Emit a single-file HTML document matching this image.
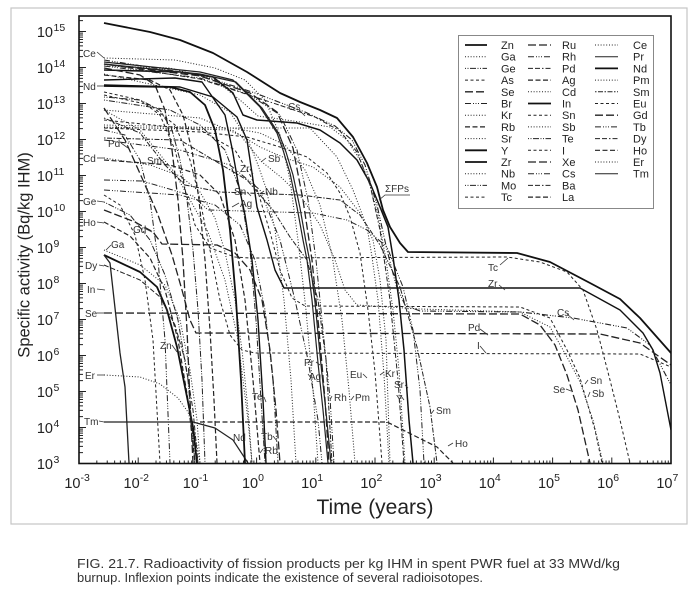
<!DOCTYPE html>
<html><head><meta charset="utf-8">
<style>
html,body{margin:0;padding:0;background:#fff;}
svg{display:block}
.c{fill:none;stroke:#222;stroke-width:1;stroke-linejoin:round}
.sk{stroke-width:1.8;stroke:#111}
.dt{stroke-dasharray:1 1.8}
.sd{stroke-dasharray:3 2.5}
.ld{stroke-dasharray:8 3;stroke-width:1.3}
.md{stroke-dasharray:5 2.5;stroke-width:1.2}
.d3{stroke-dasharray:6 2 1 1.5 1 1.5 1 2}
.dd{stroke-dasharray:1 1.5 1 1.5 6 1.5}
.ddt{stroke-dasharray:5 2 5 2 1.5 2}
.da{stroke-dasharray:1.5 1.5 5 1.5}
text{font-family:"Liberation Sans",Arial,sans-serif;fill:#222}
.lb{font-size:10px;fill:#333}
.lg{font-size:11px}
.tk{font-size:14.5px}
.sp{font-size:10.5px}
.ldr{fill:none;stroke:#333;stroke-width:0.8}
</style></head><body>
<svg width="698" height="600" viewBox="0 0 698 600">
<defs>
<clipPath id="pc"><rect x="79" y="16" width="592" height="447.5"/></clipPath>
<path id="yd" d="M79,0h7M79,-10.84h4M79,-17.18h4M79,-21.67h4M79,-25.16h4M79,-28.01h4M79,-30.42h4M79,-32.51h4M79,-34.35h4"/>
<path id="xd" d="M0,463.5v-6M17.82,463.5v-3M28.24,463.5v-3M35.64,463.5v-3M41.38,463.5v-3M46.07,463.5v-3M50.03,463.5v-3M53.46,463.5v-3M56.49,463.5v-3"/>
</defs>

<rect x="11" y="8" width="676" height="516" fill="none" stroke="#c4c4c4" stroke-width="1.2"/>

<g clip-path="url(#pc)">
<path class="c sk" d="M104,23 L150,32 L180,40 L213,53 L247,72 L280,93 L300,102 L320,110 L337,118 L353,137 L367,163 L377,187 L383,210 L390,227 L400,243 L408,252 L517,253 L550,262 L590,283 L620,299 L640,318 L671,353"/>
<path class="c sk" style="stroke-width:1.5" d="M104,70 L180,72 L213,77 L233,93 L243,115 L257,120 L297,123 L320,130 L340,143 L357,160 L370,183 L380,207 L388,227 L393,257 L399,300 L404,350 L409,420 L413,463"/>
<path class="c dt" d="M104,66 L170,68 L215,80 L240,100 L258,116 L300,122 L330,127 L347,140 L360,160 L370,185 L378,215 L386,260 L393,310 L399,370 L405,463"/>
<path class="c d3" style="stroke-width:1.1" d="M104,60 L200,75 L255,93 L305,112 L335,126 L352,140 L365,165 L377,205 L387,250 L396,285 L405,305 L420,311 L520,312 L573,318 L627,328 L650,345 L671,385"/>
<path class="c ddt" d="M104,64 L200,79 L258,98 L315,117 L340,131 L357,152 L370,185 L380,230 L390,300 L398,380 L404,463"/>
<path class="c sk" style="stroke-width:1.4" d="M104,85 L180,87 L213,97 L237,117 L247,140 L252,173 L257,207 L267,240 L275,270 L284,288 L580,288 L620,310 L643,333 L653,350 L660,373 L671,430"/>
<path class="c dt" d="M104,74 L200,95 L230,112 L248,140 L258,165 L266,188 L275,230 L284,300 L291,380 L296,463"/>
<path class="c dt" d="M104,110 L200,118 L240,135 L262,162 L282,178 L302,198 L320,225 L335,260 L345,290 L357,305 L420,309 L520,312 L550,327 L567,357 L580,382 L593,420 L603,463"/>
<path class="c sd" d="M104,120 L200,130 L235,150 L250,175 L258,192 L270,232 L280,270 L292,298 L305,306 L520,307 L550,318 L567,350 L580,378 L595,430 L602,463"/>
<path class="c ld" d="M104,313 L520,314 L540,325 L555,345 L567,375 L578,410 L590,463"/>
<path class="c ld" d="M104,108 L125,140 L142,178 L158,215 L172,255 L182,290 L190,320 L196,333 L600,334 L640,343 L671,365"/>
<path class="c sd" d="M104,95 L150,105 L175,125 L190,160 L200,200 L210,250 L220,300 L230,335 L242,350 L255,353 L640,354 L671,367"/>
<path class="c sd" d="M104,92 L140,100 L160,115 L175,150 L185,190 L195,225 L210,248 L235,257 L250,258 L507,257 L540,262 L567,272 L583,290 L597,330 L610,380 L620,420 L630,463"/>
<path class="c" style="stroke-width:1.2" d="M104,422 L193,422 L215,428 L233,440 L248,463"/>
<path class="c md" d="M104,222 L130,236 L150,258 L165,290 L178,340 L188,400 L195,463"/>
<path class="c md" d="M200,422 L387,422 L417,437 L437,447 L453,463"/>
<path class="c dt" d="M104,375 L140,377 L160,384 L178,398 L188,412 L195,435 L200,463"/>
<path class="c sk" d="M104,255 L140,272 L157,287 L167,310 L177,347 L187,397 L193,427 L197,463"/>
<path class="c" style="stroke-width:1.3" d="M104,255 L110,263 L120,353 L125,387 L129,463"/>
<path class="c dt" d="M104,250 L140,265 L165,285 L180,320 L190,370 L197,420 L200,463"/>
<path class="c ddt" d="M104,265 L140,280 L160,297 L175,325 L185,360 L193,410 L198,463"/>
<path class="c ld" d="M104,210 L135,222 L153,232 L162,244 L217,245 L235,253 L250,270 L262,300 L270,350 L276,410 L280,463"/>
<path class="c dd" d="M104,202 L130,215 L150,240 L165,275 L178,320 L188,380 L195,463"/>
<path class="c dt" d="M104,158 L150,165 L180,176 L200,192 L215,218 L225,252 L235,300 L242,350 L248,410 L252,463"/>
<path class="c d3" d="M104,180 L142,181 L193,196 L208,210 L313,213 L347,220 L367,230 L387,247 L403,287 L413,330 L420,390 L424,463"/>
<path class="c d3" d="M104,140 L180,150 L230,165 L260,190 L280,240 L295,300 L308,360 L318,420 L322,463"/>
<path class="c da" d="M104,118 L140,133 L165,165 L185,185 L220,192 L300,195 L340,200 L360,215 L380,245 L400,287 L417,347 L430,407 L437,463"/>
<path class="c da" d="M104,138 L180,140 L247,180 L273,210 L290,237 L307,260 L318,300 L326,360 L332,463"/>
<path class="c sd" d="M104,128 L200,132 L247,137 L280,147 L307,157 L327,173 L340,193 L350,217 L360,253 L368,310 L375,372 L382,463"/>
<path class="c dt" d="M104,128 L310,128 L337,157 L353,190 L367,227 L372,257 L378,300 L384,375 L389,463"/>
<path class="c dt" d="M104,127 L232,130 L260,147 L285,158 L313,167 L340,187 L360,213 L373,240 L380,280 L386,340 L390,463"/>
<path class="c dt" d="M104,125 L232,128 L260,133 L285,145 L305,170 L320,205 L332,255 L342,320 L349,390 L355,463"/>
<path class="c d3" d="M104,66 L200,78 L250,95 L280,115 L297,150 L308,200 L316,260 L323,330 L330,398 L334,463"/>
<path class="c ld" d="M104,64 L200,76 L250,93 L277,112 L293,148 L303,200 L312,260 L319,330 L325,400 L329,463"/>
<path class="c dt" d="M104,58 L175,60 L215,68 L245,80 L265,100 L280,135 L290,180 L298,240 L306,310 L313,390 L318,463"/>
<path class="c" style="stroke-width:1.2" d="M104,62 L200,72 L233,80 L260,107 L277,133 L283,150 L290,173 L297,207 L303,240 L307,260 L312,300 L318,363 L323,410 L328,463"/>
<path class="c" style="stroke-width:1.2" d="M104,64 L200,74 L236,82 L262,108 L279,134 L286,152 L293,175 L300,208 L306,242 L310,262 L315,302 L321,365 L326,412 L331,463"/>
<path class="c dd" d="M104,97 L140,100 L160,110 L172,130 L180,160 L187,200 L193,250 L198,310 L202,380 L205,463"/>
<path class="c md" d="M104,75 L150,80 L170,90 L183,115 L192,150 L199,200 L205,260 L210,330 L214,400 L217,463"/>
<path class="c ld" d="M104,68 L140,75 L155,85 L165,110 L172,150 L178,200 L183,260 L187,330 L190,400 L193,463"/>
<path class="c dd" d="M104,100 L170,110 L200,125 L225,150 L240,190 L250,250 L256,320 L261,400 L265,463"/>
<path class="c sk" d="M104,86 L170,87 L190,92 L205,105 L215,130 L223,170 L230,230 L236,300 L241,380 L245,463"/>
<path class="c d3" d="M104,190 L180,195 L215,205 L240,225 L255,260 L265,310 L273,380 L278,463"/>
<path class="c md" d="M104,160 L170,165 L200,175 L220,195 L235,240 L245,300 L253,380 L260,463"/>
<path class="c d3" d="M104,130 L125,135 L140,160 L150,200 L158,260 L165,340 L170,463"/>
<path class="c sd" d="M104,195 L120,205 L135,235 L145,280 L153,340 L160,463"/>
<path class="c dt" d="M104,110 L140,130 L175,173 L208,232 L225,280 L238,340 L248,420 L252,463"/>
<path class="c sk" style="stroke-width:1.4" d="M104,80 L175,78 L202,82 L225,115 L232,148 L238,182 L245,215 L252,260 L258,320 L263,400 L266,463"/>

<g stroke="#222" stroke-width="1" fill="none">
<use href="#yd" y="463.5"/><use href="#yd" y="427.5"/><use href="#yd" y="391.5"/><use href="#yd" y="355.5"/>
<use href="#yd" y="319.5"/><use href="#yd" y="283.5"/><use href="#yd" y="247.5"/><use href="#yd" y="211.5"/>
<use href="#yd" y="175.5"/><use href="#yd" y="139.5"/><use href="#yd" y="103.5"/><use href="#yd" y="67.5"/>
<use href="#yd" y="31.5"/>
<use href="#xd" x="79"/><use href="#xd" x="138.2"/><use href="#xd" x="197.4"/><use href="#xd" x="256.6"/>
<use href="#xd" x="315.8"/><use href="#xd" x="375"/><use href="#xd" x="434.2"/><use href="#xd" x="493.4"/>
<use href="#xd" x="552.6"/><use href="#xd" x="611.8"/>
</g>
</g>

<rect x="79" y="16" width="592" height="447.5" fill="none" stroke="#111" stroke-width="1.6"/>

<rect x="458.5" y="35.5" width="195" height="173" fill="#fff" stroke="#888" stroke-width="1"/>
<g>
<path class="c sk" d="M465,45H487"/><path class="c dt" d="M465,56.7H487"/><path class="c dd" d="M465,68.4H487"/><path class="c sd" d="M465,80.1H487"/>
<path class="c ld" d="M465,91.8H487"/><path class="c d3" d="M465,103.5H487"/><path class="c dt" d="M465,115.2H487"/><path class="c md" d="M465,126.9H487"/>
<path class="c dt" d="M465,138.6H487"/><path class="c sk" d="M465,150.3H487"/><path class="c sk" d="M465,162H487"/><path class="c dt" d="M465,173.7H487"/>
<path class="c dd" d="M465,185.4H487"/><path class="c sd" d="M465,197.1H487"/>

<path class="c ld" d="M528,45H551"/><path class="c d3" d="M528,56.7H551"/><path class="c ddt" d="M528,68.4H551"/><path class="c md" d="M528,80.1H551"/>
<path class="c dt" d="M528,91.8H551"/><path class="c sk" d="M528,103.5H551"/><path class="c sd" d="M528,115.2H551"/><path class="c dt" d="M528,126.9H551"/>
<path class="c dd" d="M528,138.6H551"/><path class="c sd" d="M528,150.3H551"/><path class="c ld" d="M528,162H551"/><path class="c d3" d="M528,173.7H551"/>
<path class="c ddt" d="M528,185.4H551"/><path class="c md" d="M528,197.1H551"/>

<path class="c dt" d="M595,45H618"/><path class="c" d="M595,56.7H618"/><path class="c sk" d="M595,68.4H618"/><path class="c dt" d="M595,80.1H618"/>
<path class="c da" d="M595,91.8H618"/><path class="c sd" d="M595,103.5H618"/><path class="c ld" d="M595,115.2H618"/><path class="c d3" d="M595,126.9H618"/>
<path class="c ddt" d="M595,138.6H618"/><path class="c md" d="M595,150.3H618"/><path class="c dt" d="M595,162H618"/><path class="c" d="M595,173.7H618"/>
</g>
<g>
<text class="lg" x="501" y="49">Zn</text><text class="lg" x="501" y="60.7">Ga</text><text class="lg" x="501" y="72.4">Ge</text><text class="lg" x="501" y="84.1">As</text>
<text class="lg" x="501" y="95.8">Se</text><text class="lg" x="501" y="107.5">Br</text><text class="lg" x="501" y="119.2">Kr</text><text class="lg" x="501" y="130.9">Rb</text>
<text class="lg" x="501" y="142.6">Sr</text><text class="lg" x="501" y="154.3">Y</text><text class="lg" x="501" y="166">Zr</text><text class="lg" x="501" y="177.7">Nb</text>
<text class="lg" x="501" y="189.4">Mo</text><text class="lg" x="501" y="201.1">Tc</text>

<text class="lg" x="562" y="49">Ru</text><text class="lg" x="562" y="60.7">Rh</text><text class="lg" x="562" y="72.4">Pd</text><text class="lg" x="562" y="84.1">Ag</text>
<text class="lg" x="562" y="95.8">Cd</text><text class="lg" x="562" y="107.5">In</text><text class="lg" x="562" y="119.2">Sn</text><text class="lg" x="562" y="130.9">Sb</text>
<text class="lg" x="562" y="142.6">Te</text><text class="lg" x="562" y="154.3">I</text><text class="lg" x="562" y="166">Xe</text><text class="lg" x="562" y="177.7">Cs</text>
<text class="lg" x="562" y="189.4">Ba</text><text class="lg" x="562" y="201.1">La</text>

<text class="lg" x="633" y="49">Ce</text><text class="lg" x="633" y="60.7">Pr</text><text class="lg" x="633" y="72.4">Nd</text><text class="lg" x="633" y="84.1">Pm</text>
<text class="lg" x="633" y="95.8">Sm</text><text class="lg" x="633" y="107.5">Eu</text><text class="lg" x="633" y="119.2">Gd</text><text class="lg" x="633" y="130.9">Tb</text>
<text class="lg" x="633" y="142.6">Dy</text><text class="lg" x="633" y="154.3">Ho</text><text class="lg" x="633" y="166">Er</text><text class="lg" x="633" y="177.7">Tm</text>
</g>

<g>
<text class="lb" x="83" y="57">Ce</text><path class="ldr" d="M97,52 L104,58"/>
<text class="lb" x="83" y="90">Nd</text><path class="ldr" d="M97,86 L104,86"/>
<text class="lb" x="108" y="147">Pd</text><path class="ldr" d="M121,143 L128,148"/>
<text class="lb" x="83" y="162">Cd</text><path class="ldr" d="M97,158 L104,158"/>
<text class="lb" x="147" y="164">Sm</text><path class="ldr" d="M162,160 L166,166"/>
<text class="lb" x="83" y="205">Ge</text><path class="ldr" d="M97,201 L104,202"/>
<text class="lb" x="83" y="226">Ho</text><path class="ldr" d="M97,222 L104,223"/>
<text class="lb" x="133" y="233">Gd</text><path class="ldr" d="M146,229 L152,232"/>
<text class="lb" x="111" y="248">Ga</text><path class="ldr" d="M111,245 L106,250"/>
<text class="lb" x="85" y="269">Dy</text><path class="ldr" d="M99,265 L104,266"/>
<text class="lb" x="87" y="293">In</text><path class="ldr" d="M97,289 L105,290"/>
<text class="lb" x="85" y="317">Se</text><path class="ldr" d="M97,313 L104,313"/>
<text class="lb" x="160" y="349">Zn</text><path class="ldr" d="M172,345 L177,352"/>
<text class="lb" x="85" y="379">Er</text><path class="ldr" d="M97,375 L104,375"/>
<text class="lb" x="84" y="425">Tm</text><path class="ldr" d="M99,421 L104,422"/>
<text class="lb" x="288" y="110">Cs</text><path class="ldr" d="M299,110 L305,116"/>
<text class="lb" x="240" y="172">Zr</text><path class="ldr" d="M250,169 L253,174"/>
<text class="lb" x="268" y="162">Sb</text><path class="ldr" d="M266,158 L261,162"/>
<text class="lb" x="234" y="195">Sn</text><path class="ldr" d="M247,192 L251,196"/>
<text class="lb" x="265" y="195">Nb</text><path class="ldr" d="M264,191 L260,194"/>
<text class="lb" x="240" y="207">Ag</text><path class="ldr" d="M239,203 L232,207"/>
<text class="lb" x="385" y="192">ΣFPs</text><path class="ldr" d="M379,200 L385,195 L410,195"/>
<text class="lb" x="488" y="271">Tc</text><path class="ldr" d="M500,265 L508,258"/>
<text class="lb" x="488" y="287">Zr</text><path class="ldr" d="M499,285 L505,290"/>
<text class="lb" x="557" y="316">Cs</text><path class="ldr" d="M567,314 L574,320"/>
<text class="lb" x="468" y="331">Pd</text><path class="ldr" d="M480,329 L488,335"/>
<text class="lb" x="477" y="349">I</text><path class="ldr" d="M480,346 L486,353"/>
<text class="lb" x="553" y="393">Se</text><path class="ldr" d="M566,389 L571,391"/>
<text class="lb" x="590" y="384">Sn</text><path class="ldr" d="M588,380 L585,384"/>
<text class="lb" x="592" y="397">Sb</text><path class="ldr" d="M590,392 L588,397"/>
<text class="lb" x="304" y="366">Pr</text><path class="ldr" d="M316,362 L320,365"/>
<text class="lb" x="309" y="380">Ag</text><path class="ldr" d="M308,374 L311,378"/>
<text class="lb" x="252" y="400">Te</text><path class="ldr" d="M264,397 L266,402"/>
<text class="lb" x="334" y="401">Rh</text><path class="ldr" d="M332,396 L330,400"/>
<text class="lb" x="355" y="401">Pm</text><path class="ldr" d="M354,396 L351,400"/>
<text class="lb" x="350" y="378">Eu</text><path class="ldr" d="M363,374 L367,378"/>
<text class="lb" x="385" y="377">Kr</text><path class="ldr" d="M384,372 L380,375"/>
<text class="lb" x="394" y="388">Sr</text><path class="ldr" d="M405,385 L408,388"/>
<text class="lb" x="396" y="402">Y</text><path class="ldr" d="M401,396 L404,400"/>
<text class="lb" x="436" y="414">Sm</text><path class="ldr" d="M434,410 L431,414"/>
<text class="lb" x="455" y="447">Ho</text><path class="ldr" d="M453,443 L448,446"/>
<text class="lb" x="233" y="441">Nd</text>
<text class="lb" x="261" y="440">Tb</text><path class="ldr" d="M273,436 L277,441"/>
<text class="lb" x="265" y="454">Rb</text><path class="ldr" d="M263,449 L260,453"/>
</g>

<g>
<text class="tk" x="53" y="469" text-anchor="end">10</text><text class="sp" x="53.5" y="463">3</text>
<text class="tk" x="53" y="433" text-anchor="end">10</text><text class="sp" x="53.5" y="427">4</text>
<text class="tk" x="53" y="397" text-anchor="end">10</text><text class="sp" x="53.5" y="391">5</text>
<text class="tk" x="53" y="361" text-anchor="end">10</text><text class="sp" x="53.5" y="355">6</text>
<text class="tk" x="53" y="325" text-anchor="end">10</text><text class="sp" x="53.5" y="319">7</text>
<text class="tk" x="53" y="289" text-anchor="end">10</text><text class="sp" x="53.5" y="283">8</text>
<text class="tk" x="53" y="253" text-anchor="end">10</text><text class="sp" x="53.5" y="247">9</text>
<text class="tk" x="53" y="217" text-anchor="end">10</text><text class="sp" x="53.5" y="211">10</text>
<text class="tk" x="53" y="181" text-anchor="end">10</text><text class="sp" x="53.5" y="175">11</text>
<text class="tk" x="53" y="145" text-anchor="end">10</text><text class="sp" x="53.5" y="139">12</text>
<text class="tk" x="53" y="109" text-anchor="end">10</text><text class="sp" x="53.5" y="103">13</text>
<text class="tk" x="53" y="73" text-anchor="end">10</text><text class="sp" x="53.5" y="67">14</text>
<text class="tk" x="53" y="37" text-anchor="end">10</text><text class="sp" x="53.5" y="31">15</text>
</g>

<g>
<text class="tk" x="80.5" y="488" text-anchor="end">10</text><text class="sp" x="80.5" y="481">-3</text>
<text class="tk" x="139.7" y="488" text-anchor="end">10</text><text class="sp" x="139.7" y="481">-2</text>
<text class="tk" x="198.9" y="488" text-anchor="end">10</text><text class="sp" x="198.9" y="481">-1</text>
<text class="tk" x="258.1" y="488" text-anchor="end">10</text><text class="sp" x="258.1" y="481">0</text>
<text class="tk" x="317.3" y="488" text-anchor="end">10</text><text class="sp" x="317.3" y="481">1</text>
<text class="tk" x="376.5" y="488" text-anchor="end">10</text><text class="sp" x="376.5" y="481">2</text>
<text class="tk" x="435.7" y="488" text-anchor="end">10</text><text class="sp" x="435.7" y="481">3</text>
<text class="tk" x="494.9" y="488" text-anchor="end">10</text><text class="sp" x="494.9" y="481">4</text>
<text class="tk" x="554.1" y="488" text-anchor="end">10</text><text class="sp" x="554.1" y="481">5</text>
<text class="tk" x="613.3" y="488" text-anchor="end">10</text><text class="sp" x="613.3" y="481">6</text>
<text class="tk" x="672.5" y="488" text-anchor="end">10</text><text class="sp" x="672.5" y="481">7</text>
</g>

<text x="375" y="514" text-anchor="middle" style="font-size:21px">Time (years)</text>
<text transform="translate(29.5,255) rotate(-90)" text-anchor="middle" style="font-size:16.5px">Specific activity (Bq/kg IHM)</text>

<text x="77" y="568" style="font-family:'Liberation Sans Narrow','Liberation Sans',sans-serif;font-size:12.5px;fill:#333" textLength="543" lengthAdjust="spacingAndGlyphs">FIG. 21.7. Radioactivity of fission products per kg IHM in spent PWR fuel at 33 MWd/kg</text>
<text x="77" y="582" style="font-family:'Liberation Sans Narrow','Liberation Sans',sans-serif;font-size:12.5px;fill:#333" textLength="406" lengthAdjust="spacingAndGlyphs">burnup. Inflexion points indicate the existence of several radioisotopes.</text>
</svg>
</body></html>
